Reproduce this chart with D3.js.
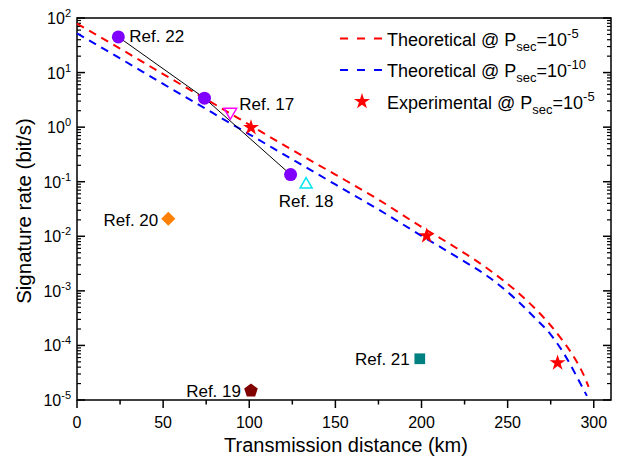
<!DOCTYPE html>
<html lang="en">
<head>
  <meta charset="UTF-8">
  <title>Signature rate vs transmission distance</title>
  <script src="https://d3js.org/d3.v7.min.js"></script>
  <style>
    body { margin: 0; padding: 0; background: #fff; }
    svg { display: block; font-family: "Liberation Sans", Arial, sans-serif; }
  </style>
</head>
<body>
  <div id="chart"></div>

  <script>
    const width = 620;
    const height = 466;
    const margin = { top: 18, right: 9, bottom: 66, left: 77 };

    // theoretical curves
    const distRed = [0, 25, 50, 75, 100, 125, 150, 175, 200, 220, 240, 255, 265, 275, 282, 288, 292, 295, 297];
    const rateRed = [79, 27.5, 9.4, 3.24, 1.11, 0.38, 0.135, 0.047, 0.0148, 0.00617, 0.00234, 9.9e-4,
                     5.07e-4, 2.32e-4, 1.22e-4, 6.5e-5, 3.94e-5, 2.5e-5, 1.74e-5];
    const distBlue = [0, 25, 50, 75, 100, 125, 150, 175, 200, 220, 240, 255, 265, 275, 282, 288, 292, 296];
    const rateBlue = [52.5, 18.2, 6.2, 2.14, 0.74, 0.257, 0.089, 0.031, 0.0102, 0.00427, 0.0017, 6.9e-4,
                      3.39e-4, 1.58e-4, 7.67e-5, 3.59e-5, 2.07e-5, 1.19e-5];

    // experimental points
    const expDist = [101, 203, 279];
    const expRate = [0.98, 0.0102, 4.8e-5];

    // Ref. 22 (three points joined by a line)
    const ref22Dist = [24, 74, 124];
    const ref22Rate = [45, 3.4, 0.135];

    // other references
    const refNames = ["Ref. 17", "Ref. 18", "Ref. 19", "Ref. 20", "Ref. 21"];
    const refDist = [89, 133, 101, 53, 199];
    const refRate = [1.9, 0.089, 1.48e-5, 0.021, 5.7e-5];

    const xTicks = [0, 50, 100, 150, 200, 250, 300];
    const yExps = [-5, -4, -3, -2, -1, 0, 1, 2];

    const svg = d3.select("#chart").append("svg")
      .attr("width", width)
      .attr("height", height);

    const x = d3.scaleLinear().domain([0, 310]).range([margin.left, width - margin.right]);
    const y = d3.scaleLog().domain([1e-5, 1e2]).range([height - margin.bottom, margin.top]);

    const x0 = x.range()[0], x1 = x.range()[1];
    const y0 = y.range()[0], y1 = y.range()[1];

    // minor ticks
    const xMinor = d3.range(25, 310, 50);
    const yMinor = [];
    yExps.slice(0, -1).forEach(e => {
      for (let k = 2; k <= 9; k++) yMinor.push(k * Math.pow(10, e));
    });

    const axes = svg.append("g").attr("stroke", "#000").attr("stroke-width", 1.5);

    // bottom ticks (outward)
    axes.selectAll(".xmaj").data(xTicks).enter().append("line")
      .attr("x1", d => x(d)).attr("x2", d => x(d))
      .attr("y1", y0).attr("y2", y0 + 8);
    axes.selectAll(".xmin").data(xMinor).enter().append("line")
      .attr("x1", d => x(d)).attr("x2", d => x(d))
      .attr("y1", y0).attr("y2", y0 + 4.5);

    // left and right ticks (inward)
    yExps.forEach(e => {
      const v = Math.pow(10, e);
      axes.append("line").attr("x1", x0).attr("x2", x0 + 8).attr("y1", y(v)).attr("y2", y(v));
      axes.append("line").attr("x1", x1).attr("x2", x1 - 8).attr("y1", y(v)).attr("y2", y(v));
    });
    yMinor.forEach(v => {
      axes.append("line").attr("x1", x0).attr("x2", x0 + 4).attr("y1", y(v)).attr("y2", y(v)).attr("stroke-width", 1.2);
      axes.append("line").attr("x1", x1).attr("x2", x1 - 4).attr("y1", y(v)).attr("y2", y(v)).attr("stroke-width", 1.2);
    });

    // frame
    axes.append("rect")
      .attr("x", x0).attr("y", y1)
      .attr("width", x1 - x0).attr("height", y0 - y1)
      .attr("fill", "none");

    // tick labels
    svg.append("g").selectAll("text").data(xTicks).enter().append("text")
      .attr("x", d => x(d)).attr("y", y0 + 28)
      .attr("text-anchor", "middle")
      .attr("font-size", 16)
      .text(d => d);

    const yLab = svg.append("g").selectAll("text").data(yExps).enter().append("text")
      .attr("x", x0 - 6).attr("y", d => y(Math.pow(10, d)) + 6)
      .attr("text-anchor", "end")
      .attr("font-size", 16);
    yLab.append("tspan").text("10");
    yLab.append("tspan").attr("dy", -7).attr("font-size", 11).text(d => d);

    // axis titles
    svg.append("text")
      .attr("x", (x0 + x1) / 2 + 2).attr("y", 452)
      .attr("text-anchor", "middle")
      .attr("font-size", 20)
      .text("Transmission distance (km)");
    svg.append("text")
      .attr("transform", `translate(31,${(y0 + y1) / 2 + 2}) rotate(-90)`)
      .attr("text-anchor", "middle")
      .attr("font-size", 20.5)
      .text("Signature rate (bit/s)");

    // curves
    const line = d3.line().x(d => x(d[0])).y(d => y(d[1])).curve(d3.curveMonotoneX);

    svg.append("path")
      .datum(d3.zip(distRed, rateRed))
      .attr("d", line)
      .attr("fill", "none").attr("stroke", "#ff0000")
      .attr("stroke-width", 2).attr("stroke-dasharray", "8,6");

    svg.append("path")
      .datum(d3.zip(distBlue, rateBlue))
      .attr("d", line)
      .attr("fill", "none").attr("stroke", "#0000ff")
      .attr("stroke-width", 2).attr("stroke-dasharray", "8,6");

    // Ref. 22 line and circles
    const ref22 = d3.zip(ref22Dist, ref22Rate);
    svg.append("path")
      .datum(ref22)
      .attr("d", d3.line().x(d => x(d[0])).y(d => y(d[1])))
      .attr("fill", "none").attr("stroke", "#000").attr("stroke-width", 1);
    svg.selectAll(".r22").data(ref22).enter().append("circle")
      .attr("cx", d => x(d[0])).attr("cy", d => y(d[1]))
      .attr("r", 6.5).attr("fill", "#8000ff");
    svg.append("text")
      .attr("x", x(ref22Dist[0]) + 11).attr("y", y(ref22Rate[0]) + 5.5)
      .attr("font-size", 17).text("Ref. 22");

    // other reference markers
    const pentagon = {
      draw(ctx, size) {
        const r = Math.sqrt(size / 2.3776);
        for (let i = 0; i < 5; i++) {
          const a = -Math.PI / 2 + i * 2 * Math.PI / 5;
          if (i === 0) ctx.moveTo(r * Math.cos(a), r * Math.sin(a));
          else ctx.lineTo(r * Math.cos(a), r * Math.sin(a));
        }
        ctx.closePath();
      }
    };
    const refStyle = [
      { type: d3.symbolTriangle, size: 70, rot: 180, fill: "none", stroke: "#ff00ff", anchor: "start", dx: 9, dy: -2 },
      { type: d3.symbolTriangle, size: 62, rot: 0, fill: "none", stroke: "#00e5ee", anchor: "middle", dx: 0, dy: 23 },
      { type: pentagon, size: 120, rot: 0, fill: "#800000", stroke: "none", anchor: "end", dx: -10, dy: 6.5 },
      { type: d3.symbolSquare, size: 100, rot: 45, fill: "#ff8000", stroke: "none", anchor: "end", dx: -10, dy: 7 },
      { type: d3.symbolSquare, size: 115, rot: 0, fill: "#008080", stroke: "none", anchor: "end", dx: -10, dy: 6.5 }
    ];

    refNames.forEach((name, i) => {
      const s = refStyle[i];
      const px = x(refDist[i]), py = y(refRate[i]);
      svg.append("path")
        .attr("d", d3.symbol().type(s.type).size(s.size)())
        .attr("transform", `translate(${px},${py}) rotate(${s.rot})`)
        .attr("fill", s.fill).attr("stroke", s.stroke).attr("stroke-width", 1.5);
      svg.append("text")
        .attr("x", px + s.dx).attr("y", py + s.dy)
        .attr("text-anchor", s.anchor)
        .attr("font-size", 17).text(name);
    });

    // experimental stars
    const star = d3.symbol().type(d3.symbolStar).size(80);
    svg.selectAll(".exp").data(d3.zip(expDist, expRate)).enter().append("path")
      .attr("d", star)
      .attr("transform", d => `translate(${x(d[0])},${y(d[1])})`)
      .attr("fill", "#ff0000");

    // legend
    const legend = svg.append("g");
    const legendRows = [
      { kind: "line", color: "#ff0000", exp: "-5", ly: 38.5 },
      { kind: "line", color: "#0000ff", exp: "-10", ly: 70 },
      { kind: "star", color: "#ff0000", exp: "-5", ly: 101.5 }
    ];
    const legendText = ["Theoretical @ P", "Theoretical @ P", "Experimental @ P"];

    legendRows.forEach((r, i) => {
      if (r.kind === "line") {
        legend.append("line")
          .attr("x1", 340).attr("x2", 382).attr("y1", r.ly).attr("y2", r.ly)
          .attr("stroke", r.color).attr("stroke-width", 2).attr("stroke-dasharray", "8,9");
      } else {
        legend.append("path")
          .attr("d", star)
          .attr("transform", `translate(362,${r.ly})`)
          .attr("fill", r.color);
      }
      const t = legend.append("text")
        .attr("x", 387).attr("y", r.ly + 7)
        .attr("font-size", 18);
      t.append("tspan").text(legendText[i]);
      t.append("tspan").attr("dy", 5).attr("font-size", 13).text("sec");
      t.append("tspan").attr("dy", -5).text("=10");
      t.append("tspan").attr("dy", -8).attr("font-size", 13).text(r.exp);
    });
  </script>
</body>
</html>
